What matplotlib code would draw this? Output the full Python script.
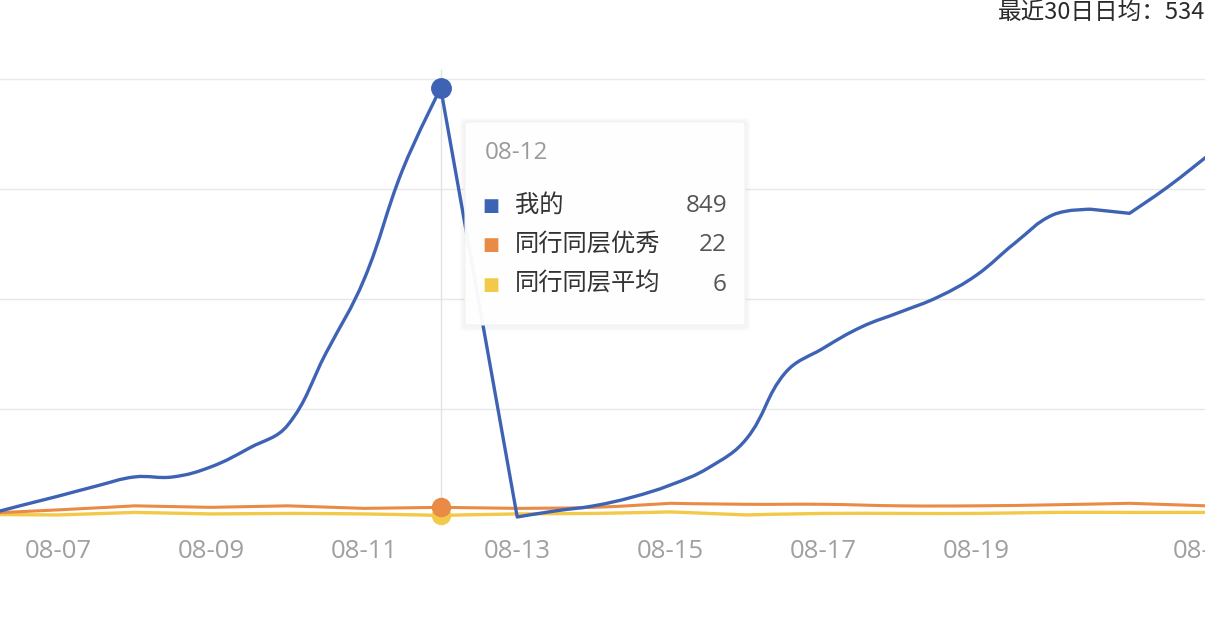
import numpy as np
import matplotlib
matplotlib.use("Agg")
import matplotlib.pyplot as plt
from matplotlib.patches import FancyBboxPatch, PathPatch, Rectangle
from matplotlib.path import Path

plt.rcParams['font.family'] = ['Open Sans', 'Noto Sans CJK SC', 'DejaVu Sans']

# data: day of August
blue_days = [6, 6.5, 7, 7.5, 8, 8.5, 9, 9.5, 10, 10.5, 11, 11.5, 12, 13,
             13.5, 14, 14.5, 15, 15.5, 16, 16.5, 17, 17.5, 18, 18.5, 19,
             19.5, 20, 20.5, 21, 21.5, 22]
blue_vals = [5, 25, 44, 64, 82, 82, 102, 139, 184, 326, 472, 687, 849, 3,
             15, 25, 42, 66, 100, 158, 287, 336, 378, 407, 437, 480,
             543, 599, 610, 602, 654, 713]
peer_days = [6, 7, 8, 9, 10, 11, 12, 13, 14, 15, 16, 17, 18, 19, 20, 21, 22]
excellent_vals = [10, 17, 25, 22, 25, 20, 22, 20, 22, 30, 28, 28, 25, 25, 27, 30, 25]
average_vals = [8, 7, 12, 9, 10, 9, 6, 9, 10, 13, 7, 10, 10, 10, 12, 12, 12]

series_names = ['我的', '同行同层优秀', '同行同层平均']
tooltip_day = 12
tooltip_vals = [849, 22, 6]

tick_days = [7, 9, 11, 13, 15, 17, 19, 22]
tick_labels = ['08-%02d' % d for d in tick_days]
grid_vals = [217, 434, 651, 868]
summary = '最近30日日均：534'

c_blue = '#3e63b4'
c_orange = '#e98a45'
c_yellow = '#f3c94a'

W, H = 1216, 626
fig = plt.figure(figsize=(W / 100, H / 100), dpi=100)


def fx(px):
    return px / W


def fy(py):
    return 1 - py / H


# pixel scale of the plot: 76.5 px per day, value 0 at y=518.5, 868 at y=78.5
px_day = 76.5
px_val = (518.5 - 78.5) / 868
ax = fig.add_axes([0, fy(540), 1206 / W, (540 - 60) / H])
ax.set_ylim(-(540 - 518.5) / px_val, (518.5 - 60) / px_val)
ax.set_xlim(7 - 58 / px_day, 22)


def smooth_line(xs, ys, s=0.4, **kw):
    # bezier curve through the points, sharp at local extrema (like echarts smooth)
    p = np.column_stack([np.asarray(xs) * px_day, np.asarray(ys) * px_val])
    n = len(p)
    h_in = np.zeros_like(p)
    h_out = np.zeros_like(p)
    for i in range(1, n - 1):
        if (p[i, 1] - p[i - 1, 1]) * (p[i + 1, 1] - p[i, 1]) < 0:
            continue
        v = (p[i + 1] - p[i - 1]) * s
        d0 = np.hypot(*(p[i] - p[i - 1]))
        d1 = np.hypot(*(p[i + 1] - p[i]))
        h_out[i] = v * d1 / (d0 + d1)
        h_in[i] = v * d0 / (d0 + d1)
    verts = [p[0]]
    codes = [Path.MOVETO]
    for i in range(n - 1):
        verts += [p[i] + h_out[i], p[i + 1] - h_in[i + 1], p[i + 1]]
        codes += [Path.CURVE4] * 3
    verts = np.array(verts) / [px_day, px_val]
    ax.add_patch(PathPatch(Path(verts, codes), fill=False, capstyle='round',
                           joinstyle='round', **kw))


for g in grid_vals:
    ax.axhline(g, color='#e8e8e8', lw=1, zorder=0)
ax.axvline(tooltip_day, ymin=0.04, ymax=0.98, color='#e2e2e2', lw=1, zorder=1)

smooth_line(peer_days, average_vals, ec=c_yellow, lw=2.4, zorder=2)
smooth_line(peer_days, excellent_vals, ec=c_orange, lw=2.2, zorder=3)
smooth_line(blue_days, blue_vals, ec=c_blue, lw=2.4, zorder=4)

ax.plot([tooltip_day], [tooltip_vals[2]], 'o', ms=13, color=c_yellow, zorder=5)
ax.plot([tooltip_day], [tooltip_vals[1]], 'o', ms=13, color=c_orange, zorder=6)
ax.plot([tooltip_day], [tooltip_vals[0]], 'o', ms=14, color=c_blue, zorder=7)

ax.set_xticks(tick_days)
ax.set_xticklabels(tick_labels)
ax.set_yticks([])
ax.tick_params(axis='x', length=0, pad=-1, labelsize=18.5, labelcolor='#a0a0a0')
for s in ax.spines.values():
    s.set_visible(False)

# tooltip box with a soft shadow
bx0, by0, bx1, by1 = 465, 122, 745, 325
for grow in [5, 3]:
    sh = FancyBboxPatch((fx(bx0 - grow), fy(by1 + grow + 1)),
                        fx(bx1 - bx0 + 2 * grow), (by1 - by0 + 2 * grow) / H,
                        boxstyle='round,pad=0,rounding_size=0.006',
                        transform=fig.transFigure, fc='#000000', ec='none',
                        alpha=0.018, zorder=8)
    fig.patches.append(sh)
box = FancyBboxPatch((fx(bx0), fy(by1)), fx(bx1 - bx0), (by1 - by0) / H,
                     boxstyle='round,pad=0,rounding_size=0.004',
                     transform=fig.transFigure, fc='white', ec='#f2f2f2',
                     lw=0.8, alpha=0.96, zorder=9)
fig.patches.append(box)

fig.text(fx(485), fy(153), '08-%02d' % tooltip_day, color='#9a9a9a',
         fontsize=17.5, va='center', ha='left', zorder=10)
row_y = [206, 245, 285]
for name, val, col, ry in zip(series_names, tooltip_vals, [c_blue, c_orange, c_yellow], row_y):
    fig.text(fx(491), fy(ry), '■', color=col, fontsize=13, va='center',
             ha='center', family=['DejaVu Sans'], zorder=10)
    fig.text(fx(515), fy(ry), name, color='#333333', fontsize=17.5,
             va='center', ha='left', zorder=10)
    fig.text(fx(727), fy(ry), str(val), color='#555555', fontsize=17.5,
             va='center', ha='right', zorder=10)

fig.text(fx(998), fy(12), summary, color='#2a2a2a', fontsize=17,
         va='center', ha='left', family=['Noto Sans CJK SC'])

# the screenshot has a blank strip on the right edge
fig.patches.append(Rectangle((fx(1205), 0), fx(W - 1205), 1, transform=fig.transFigure,
                             fc='white', ec='none', zorder=20))

fig.savefig('out.png', dpi=100, facecolor='white')
